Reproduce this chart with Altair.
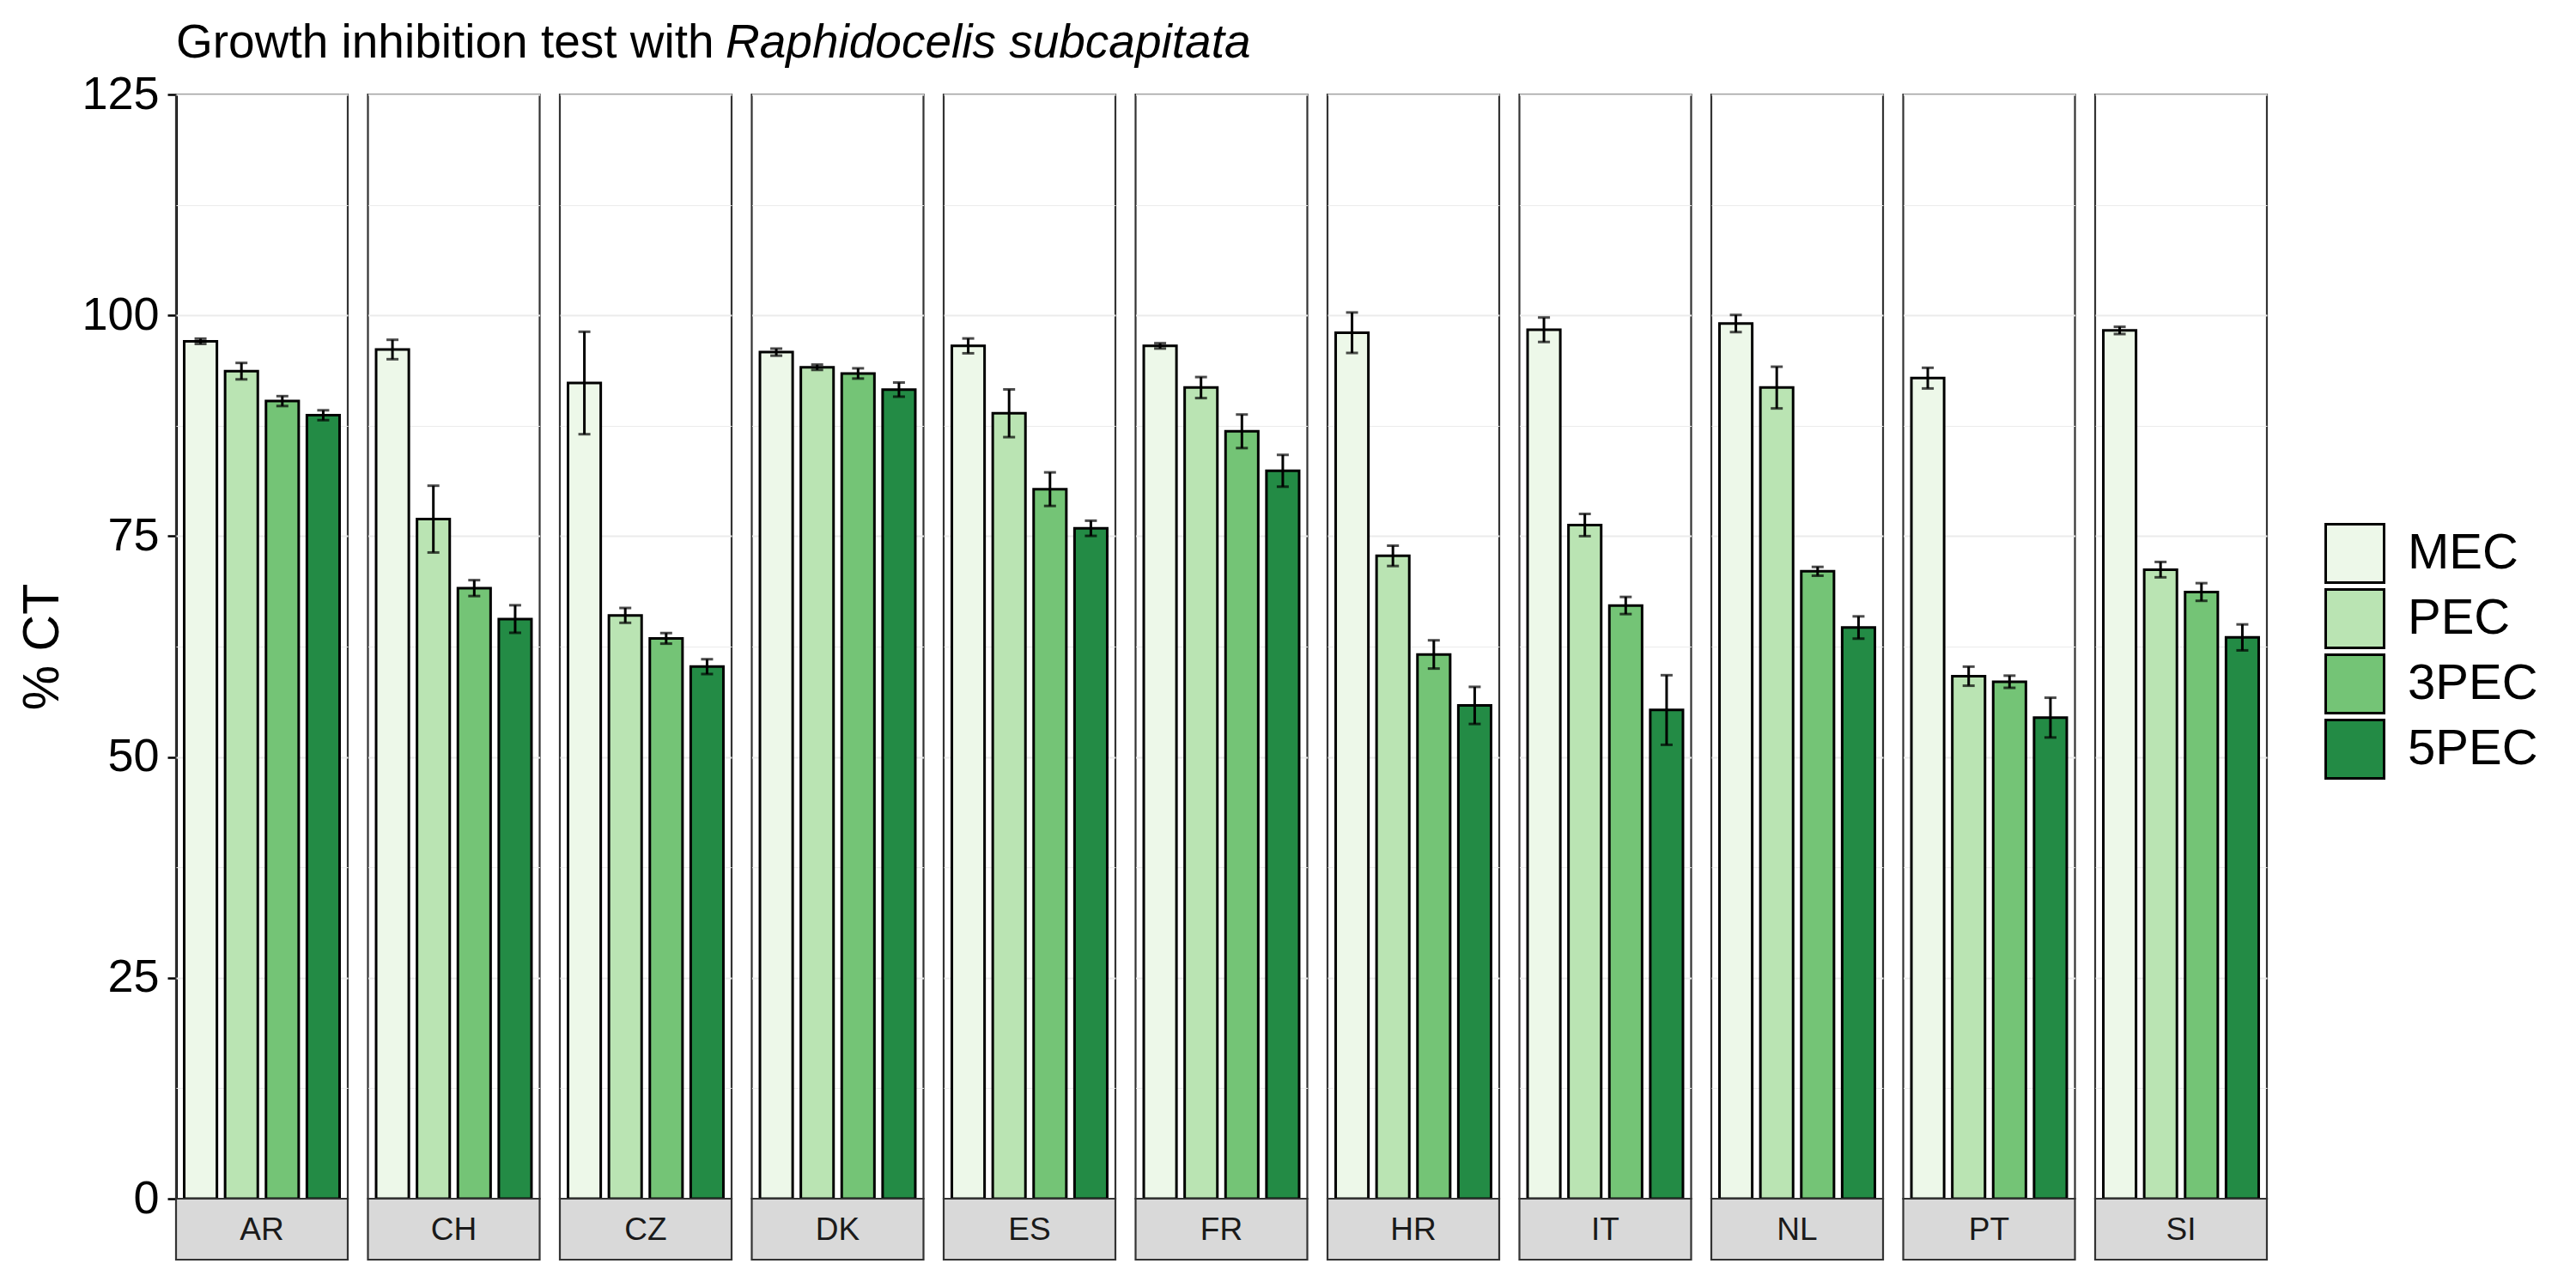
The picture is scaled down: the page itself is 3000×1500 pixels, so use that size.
import altair as alt
import pandas as pd

countries = ["AR", "CH", "CZ", "DK", "ES", "FR", "HR", "IT", "NL", "PT", "SI"]
treatments = ["MEC", "PEC", "3PEC", "5PEC"]
colors = ["#edf8e9", "#bae4b3", "#74c476", "#238b45"]

mec = [97.06, 96.13, 92.34, 95.83, 96.54, 96.54, 98.03, 98.36, 99.07, 92.89, 98.29]
mec_err = [0.3, 1.1, 5.8, 0.4, 0.84, 0.3, 2.29, 1.38, 0.97, 1.17, 0.41]
pec = [93.68, 76.93, 66.03, 94.12, 88.91, 91.82, 72.77, 76.26, 91.82, 59.15, 71.21]
pec_err = [0.93, 3.78, 0.84, 0.3, 2.7, 1.19, 1.15, 1.26, 2.36, 1.08, 0.87]
pec3 = [90.29, 69.12, 63.43, 93.42, 80.32, 86.87, 61.61, 67.15, 71.02, 58.52, 68.68]
pec3_err = [0.56, 0.9, 0.6, 0.58, 1.9, 1.9, 1.6, 0.97, 0.5, 0.69, 1.0]
pec5 = [88.69, 65.62, 60.23, 91.59, 75.89, 82.4, 55.84, 55.32, 64.66, 54.46, 63.54]
pec5_err = [0.56, 1.56, 0.84, 0.8, 0.86, 1.8, 2.1, 3.94, 1.26, 2.25, 1.47]

means = {"MEC": mec, "PEC": pec, "3PEC": pec3, "5PEC": pec5}
errs = {"MEC": mec_err, "PEC": pec_err, "3PEC": pec3_err, "5PEC": pec5_err}

rows = []
for i, c in enumerate(countries):
    for t in treatments:
        m = means[t][i]
        e = errs[t][i]
        rows.append({"country": c, "treatment": t, "mean": m,
                     "lower": m - e, "upper": m + e})
df = pd.DataFrame(rows)

FONT = "Liberation Sans"
W = 200
H = 1286
STRIP = 71

base = alt.Chart(df)

xenc = alt.X("treatment:N", sort=treatments, axis=None,
             scale=alt.Scale(paddingInner=0.2, paddingOuter=0.2))

yaxis = alt.Axis(
    values=[0, 12.5, 25, 37.5, 50, 62.5, 75, 87.5, 100, 112.5, 125],
    labelExpr="datum.value % 25 === 0 ? datum.label : ''",
    tickOpacity={"condition": {"test": "datum.value % 25 === 0", "value": 1}, "value": 0},
    gridWidth={"condition": {"test": "datum.value % 25 === 0", "value": 2.2}, "value": 1.1},
    gridColor="#ebebeb",
    title="% CT",
    titleFont=FONT, titleFontSize=59, titleFontWeight="normal", titleColor="black",
    titlePadding=15,
    labelFont=FONT, labelFontSize=54, labelColor="black", labelPadding=10,
    tickColor="black", tickWidth=2.5, tickSize=10,
    domainColor="black", domainWidth=3,
)

bars = base.mark_bar(stroke="black", strokeWidth=3).encode(
    x=xenc,
    y=alt.Y("mean:Q", scale=alt.Scale(domain=[0, 125], nice=False, zero=True), axis=yaxis),
    fill=alt.Fill("treatment:N", sort=treatments,
                  scale=alt.Scale(domain=treatments, range=colors),
                  legend=alt.Legend(
                      title=None, orient="none", legendX=2502, legendY=499,
                      symbolType="square", symbolSize=4624,
                      symbolStrokeColor="black", symbolStrokeWidth=3,
                      labelFont=FONT, labelFontSize=58, labelColor="black",
                      labelOffset=26, rowPadding=-16.5, padding=0,
                      symbolOpacity=1,
                  )),
)

rules = base.mark_rule(color="black", strokeWidth=3).encode(
    x=alt.X("treatment:N", sort=treatments),
    y=alt.Y("lower:Q"),
    y2="upper:Q",
)

cap_hi = base.mark_tick(color="black", thickness=3, size=14, orient="horizontal").encode(
    x=alt.X("treatment:N", sort=treatments),
    y=alt.Y("upper:Q"),
)
cap_lo = base.mark_tick(color="black", thickness=3, size=14, orient="horizontal").encode(
    x=alt.X("treatment:N", sort=treatments),
    y=alt.Y("lower:Q"),
)

one = base.transform_filter("datum.treatment == 'MEC'")

strip = one.mark_rect(fill="#d9d9d9", stroke="#333333", strokeWidth=2.2).encode(
    x=alt.value(0), x2=alt.value(W), y=alt.value(H), y2=alt.value(H + STRIP),
)
strip_text = one.mark_text(font=FONT, fontSize=37, color="#1a1a1a",
                           baseline="middle", align="center").encode(
    x=alt.value(W / 2), y=alt.value(H + STRIP / 2 + 1), text=alt.Text("country:N"),
)

first = base.transform_filter("datum.treatment == 'MEC' && datum.country == 'AR'")
title1 = first.mark_text(font=FONT, fontSize=55, color="black",
                         align="left", baseline="alphabetic").encode(
    x=alt.value(0), y=alt.value(-43), text=alt.value("Growth inhibition test with"),
)
title2 = first.mark_text(font=FONT, fontSize=55, color="black", fontStyle="italic",
                         align="left", baseline="alphabetic").encode(
    x=alt.value(640), y=alt.value(-43), text=alt.value("Raphidocelis subcapitata"),
)

layered = alt.layer(bars, rules, cap_hi, cap_lo, strip, strip_text, title1, title2).properties(
    width=W, height=H
)

chart = layered.facet(
    column=alt.Column("country:N", sort=countries, title=None,
                      header=alt.Header(labels=False)),
    spacing=23.5,
    bounds="flush",
).properties(
    padding={"left": 12, "top": 13, "right": 10, "bottom": 10},
    background="white",
).configure_view(
    stroke="#333333", strokeWidth=2.2,
)

chart.save("out.html", embed_options={"renderer": "svg", "actions": False})
